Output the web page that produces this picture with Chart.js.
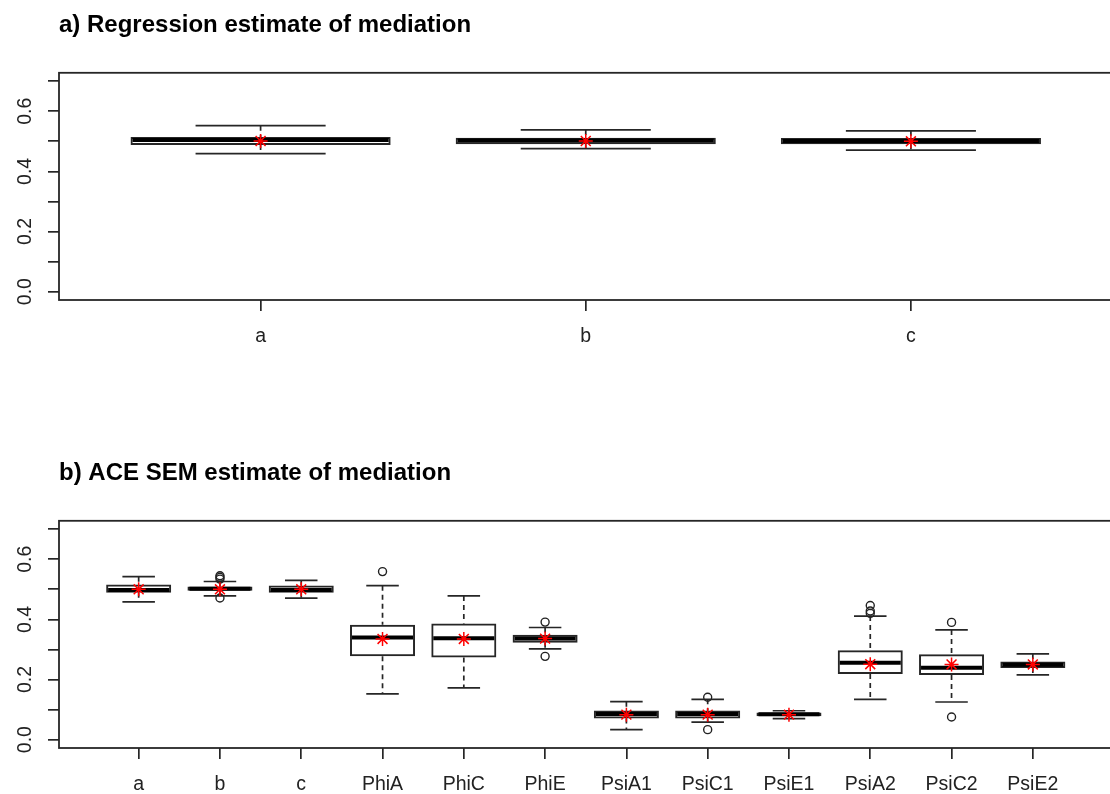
<!DOCTYPE html>
<html>
<head>
<meta charset="utf-8">
<script src="https://cdn.jsdelivr.net/npm/chart.js@4.4.1/dist/chart.umd.min.js"></script>
<style>
html, body { margin: 0; padding: 0; overflow: hidden; background: #fff; }
#wrap { position: relative; width: 1110px; height: 794px; overflow: hidden; }
canvas { position: absolute; left: 0; }
#chartA { top: 0; }
#chartB { top: 448px; }
</style>
</head>
<body>
<div id="wrap">
  <canvas id="chartA" width="1121" height="448"></canvas>
  <canvas id="chartB" width="1121" height="448"></canvas>
</div>
<script>
// data

// a) regression
const catsA = ['a', 'b', 'c'];
const lowA  = [0.459, 0.476, 0.471];
const q1A   = [0.488, 0.490, 0.490];
const medA  = [0.504, 0.503, 0.501];
const q3A   = [0.514, 0.512, 0.511];
const highA = [0.552, 0.538, 0.535];
const meanA = [0.501, 0.501, 0.500];
const outCatA = [];
const outValA = [];

// b) ACE SEM
const catsB = ['a', 'b', 'c', 'PhiA', 'PhiC', 'PhiE', 'PsiA1', 'PsiC1', 'PsiE1', 'PsiA2', 'PsiC2', 'PsiE2'];
const lowB  = [0.458, 0.478, 0.471, 0.152, 0.172, 0.302, 0.033, 0.058, 0.070, 0.134, 0.125, 0.215];
const q1B   = [0.489, 0.495, 0.489, 0.277, 0.273, 0.322, 0.070, 0.070, 0.078, 0.218, 0.215, 0.238];
const medB  = [0.498, 0.502, 0.498, 0.340, 0.337, 0.336, 0.085, 0.085, 0.084, 0.256, 0.239, 0.249];
const q3B   = [0.516, 0.509, 0.513, 0.382, 0.386, 0.349, 0.097, 0.097, 0.090, 0.297, 0.284, 0.260];
const highB = [0.542, 0.526, 0.530, 0.512, 0.478, 0.373, 0.126, 0.134, 0.096, 0.411, 0.365, 0.285];
const meanB = [0.500, 0.500, 0.500, 0.335, 0.335, 0.336, 0.083, 0.083, 0.083, 0.251, 0.250, 0.250];
const outCatB = ['b', 'b', 'b', 'b', 'PhiA', 'PhiE', 'PhiE', 'PsiC1', 'PsiC1', 'PsiA2', 'PsiA2', 'PsiA2', 'PsiC2', 'PsiC2'];
const outValB = [0.545, 0.540, 0.534, 0.471, 0.559, 0.391, 0.277, 0.141, 0.033, 0.446, 0.428, 0.420, 0.390, 0.075];

const yTickValues = [0, 0.1, 0.2, 0.3, 0.4, 0.5, 0.6, 0.7];
const yTickLabels = ['0.0', '', '0.2', '', '0.4', '', '0.6', ''];

const FONT = 'Liberation Sans, Arial, sans-serif';
const LINE = '#262626';

// frame round the plot region
const frame = {
    id: 'frame',
    afterDraw(chart) {
        const {ctx, chartArea: a} = chart;
        ctx.save();
        ctx.strokeStyle = LINE;
        ctx.lineWidth = 1.8;
        ctx.strokeRect(a.left, a.top, a.right - a.left, a.bottom - a.top);
        ctx.restore();
    }
};

function makeBoxplot(id, title, cats, low, q1, med, q3, high, means, outCat, outVal) {
    const n = cats.length;
    const pad = 0.04 * n;

    // whiskers, staples and medians, drawn right after the boxes
    const boxLines = {
        id: 'boxLines',
        afterDatasetDraw(chart, args) {
            if (args.index !== 0) return;
            const {ctx, scales: {x, y}} = chart;
            const unit = x.getPixelForValue(2) - x.getPixelForValue(1);
            ctx.save();
            for (let i = 0; i < n; i++) {
                const cx = x.getPixelForValue(i + 1);
                ctx.strokeStyle = LINE;
                ctx.lineWidth = 1.7;
                ctx.setLineDash([5, 4]);
                ctx.beginPath();
                ctx.moveTo(cx, y.getPixelForValue(high[i]));
                ctx.lineTo(cx, y.getPixelForValue(q3[i]));
                ctx.moveTo(cx, y.getPixelForValue(q1[i]));
                ctx.lineTo(cx, y.getPixelForValue(low[i]));
                ctx.stroke();
                ctx.setLineDash([]);
                ctx.beginPath();
                ctx.moveTo(cx - unit * 0.2, y.getPixelForValue(high[i]));
                ctx.lineTo(cx + unit * 0.2, y.getPixelForValue(high[i]));
                ctx.moveTo(cx - unit * 0.2, y.getPixelForValue(low[i]));
                ctx.lineTo(cx + unit * 0.2, y.getPixelForValue(low[i]));
                ctx.stroke();
                ctx.strokeStyle = '#000';
                ctx.lineWidth = 4;
                ctx.beginPath();
                ctx.moveTo(cx - unit * 0.4 + 2, y.getPixelForValue(med[i]));
                ctx.lineTo(cx + unit * 0.4 - 2, y.getPixelForValue(med[i]));
                ctx.stroke();
            }
            ctx.restore();
        }
    };

    const tickFont = {family: FONT, size: 19.5};
    const grid = {drawOnChartArea: false, drawTicks: true, tickLength: 11, color: LINE, lineWidth: 1.7, offset: false};

    return new Chart(document.getElementById(id), {
        type: 'bar',
        data: {
            datasets: [{
                type: 'bar',
                data: cats.map((c, i) => ({x: i + 1, y: [q1[i], q3[i]]})),
                backgroundColor: 'rgba(255,255,255,0)',
                borderColor: LINE,
                borderWidth: 2,
                borderSkipped: false,
                categoryPercentage: 1,
                barPercentage: 0.8,
                order: 3
            }, {
                type: 'scatter',
                data: outCat.map((c, i) => ({x: cats.indexOf(c) + 1, y: outVal[i]})),
                pointStyle: 'circle',
                radius: 4,
                borderColor: '#222',
                borderWidth: 1.4,
                backgroundColor: 'rgba(0,0,0,0)',
                order: 2
            }, {
                type: 'scatter',
                data: means.map((m, i) => ({x: i + 1, y: m})),
                pointStyle: 'star',
                radius: 7,
                borderColor: '#ff0000',
                borderWidth: 1.5,
                order: 1
            }]
        },
        options: {
            responsive: false,
            animation: false,
            events: [],
            devicePixelRatio: 1,
            layout: {padding: 0},
            plugins: {
                legend: {display: false},
                tooltip: {enabled: false},
                title: {
                    display: true,
                    text: title,
                    align: 'start',
                    fullSize: false,
                    color: '#000',
                    font: {family: FONT, size: 24, weight: 'bold', lineHeight: 1.2},
                    padding: {top: 11, bottom: 33}
                }
            },
            scales: {
                x: {
                    type: 'linear',
                    offset: false,
                    min: 0.5 - pad,
                    max: n + 0.5 + pad,
                    afterBuildTicks: s => { s.ticks = cats.map((c, i) => ({value: i + 1})); },
                    afterFit: s => { s.height = 148; },
                    ticks: {
                        autoSkip: false, maxRotation: 0, minRotation: 0, padding: 14,
                        color: '#222', font: tickFont,
                        callback: v => cats[v - 1]
                    },
                    grid: grid,
                    border: {display: false}
                },
                y: {
                    min: -0.028,
                    max: 0.728,
                    afterBuildTicks: s => { s.ticks = yTickValues.map(v => ({value: v})); },
                    afterFit: s => { s.width = 59; },
                    ticks: {
                        autoSkip: false, minRotation: 90, maxRotation: 90, crossAlign: 'center', padding: 9,
                        color: '#222', font: tickFont,
                        callback: (v, i) => yTickLabels[i]
                    },
                    grid: grid,
                    border: {display: false}
                }
            }
        },
        plugins: [boxLines, frame]
    });
}

makeBoxplot('chartA', 'a) Regression estimate of mediation', catsA, lowA, q1A, medA, q3A, highA, meanA, outCatA, outValA);
makeBoxplot('chartB', 'b) ACE SEM estimate of mediation', catsB, lowB, q1B, medB, q3B, highB, meanB, outCatB, outValB);
</script>
</body>
</html>
